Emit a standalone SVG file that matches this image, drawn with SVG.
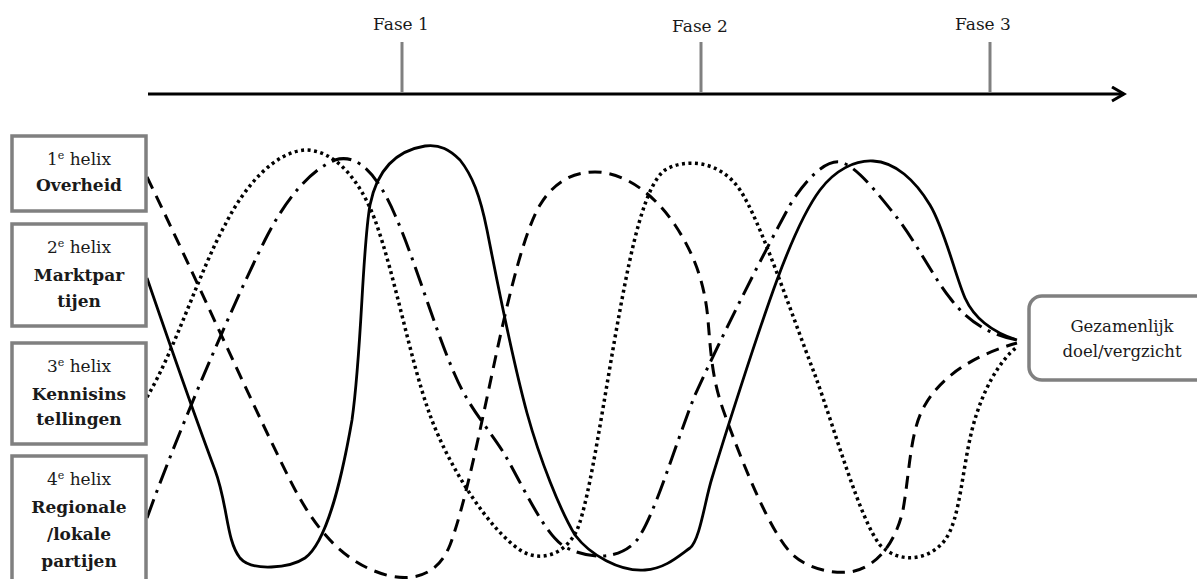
<svg xmlns="http://www.w3.org/2000/svg" width="1197" height="579" viewBox="0 0 1197 579">
<defs>
<style>
.box{fill:#fff;stroke:#808080;stroke-width:3.5}
.t{font-family:"DejaVu Serif","Liberation Serif",serif;font-size:17px;fill:#1a1a1a;text-anchor:middle}
.b{font-weight:bold}
.g{font-size:16.5px}
.sup{font-size:11px}
.tick{stroke:#808080;stroke-width:3}
.c{fill:none;stroke:#000;stroke-width:3}
.solid{stroke-width:2.8}
.dash{stroke-dasharray:13 8}
.dashdot{stroke-dasharray:20 7 3 7}
.dot{stroke-width:3.5;stroke-dasharray:3 3.5}
</style>
<marker id="arr" markerWidth="20" markerHeight="20" refX="14" refY="8" orient="auto" markerUnits="userSpaceOnUse">
<path d="M2,1 L14,8 L2,15" fill="none" stroke="#000" stroke-width="3"/>
</marker>
</defs>
<rect width="1197" height="579" fill="#fff"/>

<g id="timeline">
<line x1="148" y1="94" x2="1124" y2="94" stroke="#000" stroke-width="3" marker-end="url(#arr)"/>
<line class="tick" x1="402" y1="42" x2="402" y2="93"/>
<line class="tick" x1="701" y1="42" x2="701" y2="93"/>
<line class="tick" x1="990" y1="42" x2="990" y2="93"/>
<text class="t" x="401" y="30">Fase 1</text>
<text class="t" x="700" y="32">Fase 2</text>
<text class="t" x="983" y="30">Fase 3</text>
</g>

<g id="connectors">
<path class="c solid" d="M147,278 C170,345 200,430 215,470 C228,505 226,540 240,558 C252,572 290,568 305,558 C330,540 345,460 352,420 C362,350 362,250 370,205 C378,165 400,150 425,146 C440,144 450,150 460,160 C472,175 480,195 487,230 C495,270 510,350 527,413 C540,460 560,510 575,535 C590,555 620,572 645,570 C665,569 680,555 690,548 C700,540 705,500 712,478 C722,445 755,340 777,280 C790,245 805,210 820,190 C835,170 855,160 873,161 C895,162 915,180 930,205 C945,230 955,275 965,298 C975,320 995,333 1017,340"/>
<path class="c dash" d="M147,177 C190,265 250,400 290,480 C315,530 345,565 390,576 C420,582 440,570 450,545 C465,505 480,430 495,360 C510,290 525,230 540,205 C555,180 575,172 595,172 C625,172 655,195 675,225 C695,255 705,285 708,320 C711,355 712,380 725,415 C745,470 770,530 790,552 C805,568 830,574 850,572 C875,568 895,545 903,510 C910,470 910,430 925,405 C945,370 985,352 1017,343"/>
<path class="c dashdot" d="M147,518 C175,440 230,310 265,240 C285,200 310,170 335,160 C360,152 380,180 395,215 C415,260 435,330 455,375 C470,410 490,430 505,455 C525,490 545,535 565,547 C590,560 620,560 637,540 C655,515 675,445 695,395 C720,340 760,260 790,205 C805,180 825,160 840,162 C855,165 875,190 895,215 C915,240 935,280 950,298 C970,325 995,336 1017,340"/>
<path class="c dot" d="M147,397 C175,350 200,270 225,225 C245,185 275,152 305,150 C335,150 360,180 375,220 C395,275 410,360 430,415 C450,470 490,530 520,550 C540,563 565,555 577,530 C590,500 605,390 620,310 C632,245 645,185 665,170 C685,158 720,160 740,190 C760,220 790,310 815,375 C835,430 860,520 880,545 C900,565 930,560 945,540 C960,520 962,470 972,430 C982,390 1000,360 1017,347"/>
</g>

<g id="helix1">
<rect class="box" x="12" y="136" width="134" height="75"/>
<text class="t" x="79" y="165">1<tspan class="sup" dy="-6">e</tspan><tspan dy="6"> helix</tspan></text>
<text class="t b" x="79" y="191">Overheid</text>
</g>
<g id="helix2">
<rect class="box" x="12" y="224" width="134" height="102"/>
<text class="t" x="79" y="253">2<tspan class="sup" dy="-6">e</tspan><tspan dy="6"> helix</tspan></text>
<text class="t b" x="79" y="281">Marktpar</text>
<text class="t b" x="79" y="307">tijen</text>
</g>
<g id="helix3">
<rect class="box" x="12" y="343" width="134" height="101"/>
<text class="t" x="79" y="372">3<tspan class="sup" dy="-6">e</tspan><tspan dy="6"> helix</tspan></text>
<text class="t b" x="79" y="400">Kennisins</text>
<text class="t b" x="79" y="425">tellingen</text>
</g>
<g id="helix4">
<rect class="box" x="12" y="456" width="134" height="130"/>
<text class="t" x="79" y="485">4<tspan class="sup" dy="-6">e</tspan><tspan dy="6"> helix</tspan></text>
<text class="t b" x="79" y="513">Regionale</text>
<text class="t b" x="79" y="540">/lokale</text>
<text class="t b" x="79" y="567">partijen</text>
</g>
<g id="goal">
<rect class="box" x="1029" y="296" width="180" height="84" rx="13"/>
<text class="t g" x="1122" y="332">Gezamenlijk</text>
<text class="t g" x="1122" y="357">doel/vergzicht</text>
</g>
</svg>
